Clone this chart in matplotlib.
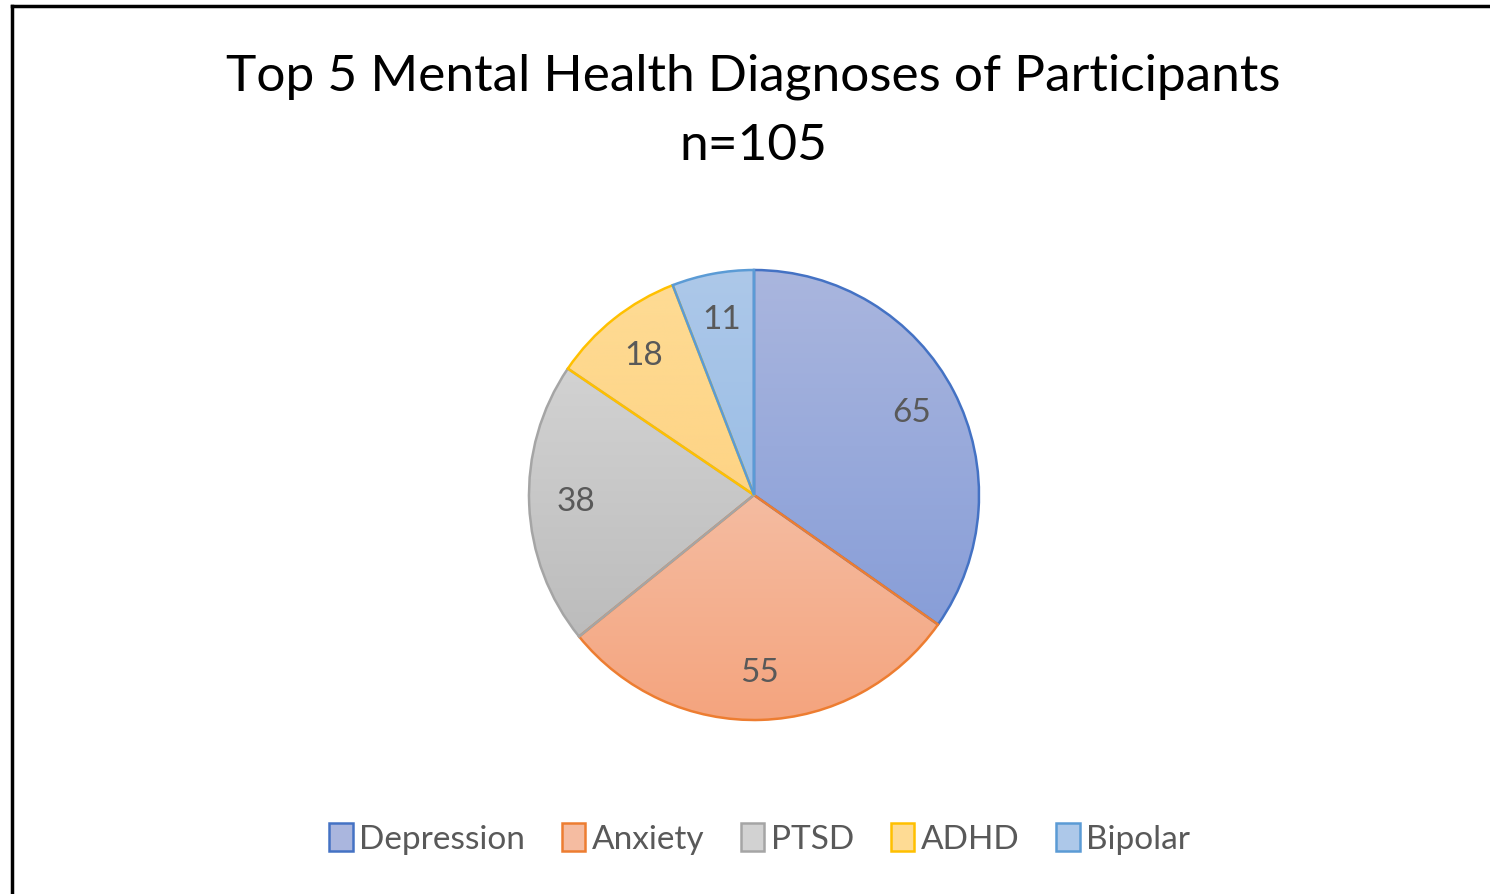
import numpy as np
import matplotlib.pyplot as plt
from matplotlib.patches import Patch
from matplotlib.lines import Line2D
from matplotlib.colors import LinearSegmentedColormap

# data
labels = ['Depression', 'Anxiety', 'PTSD', 'ADHD', 'Bipolar']
counts = [65, 55, 38, 18, 11]
title = 'Top 5 Mental Health Diagnoses of Participants'
subtitle = 'n=105'

# colours (gradient top -> bottom, edge)
top_cols = ['#AAB6DE', '#F5BCA1', '#D2D2D2', '#FEDB94', '#ADC8E9']
bot_cols = ['#889ED8', '#F4A47E', '#BCBCBC', '#FED485', '#9BBEE6']
edge_cols = ['#4472C4', '#ED7D31', '#A5A5A5', '#FFC000', '#5B9BD5']

plt.rcParams['font.family'] = ['Lato', 'DejaVu Sans']

W, H = 1490, 894
fig = plt.figure(figsize=(W / 100, H / 100), dpi=100)

# pie axes placed so the pie sits where it is in the reference
cx, cy, r = 754, 495, 225
m = 1.02
ax = fig.add_axes([(cx - r * m) / W, (H - cy - r * m) / H, 2 * r * m / W, 2 * r * m / H])
wedges, texts = ax.pie(counts, startangle=90, counterclock=False, radius=1,
                       labels=[str(c) for c in counts], labeldistance=0.79,
                       colors=top_cols,
                       wedgeprops=dict(linewidth=1.8),
                       textprops=dict(fontsize=24, color='#595959'))
for t in texts:
    t.set_horizontalalignment('center')
    t.set_verticalalignment('center')
ax.set_xlim(-m, m)
ax.set_ylim(-m, m)
ax.set_aspect('equal')
ax.axis('off')

# gradient fill inside each wedge
for w, tc, bc, ec in zip(wedges, top_cols, bot_cols, edge_cols):
    w.set_edgecolor(ec)
    w.set_facecolor('none')
    ext = w.get_path().get_extents()
    cmap = LinearSegmentedColormap.from_list('g', [tc, bc])
    grad = np.linspace(0, 1, 256).reshape(-1, 1)
    im = ax.imshow(grad, cmap=cmap, aspect='auto', origin='upper',
                   extent=[ext.x0, ext.x1, ext.y0, ext.y1], zorder=w.get_zorder() - 0.1)
    im.set_clip_path(w)
ax.set_xlim(-m, m)
ax.set_ylim(-m, m)

# title
fig.text(0.5055, 1 - 77 / H, title, ha='center', va='center', fontsize=37, color='black')
fig.text(0.5055, 1 - 146 / H, subtitle, ha='center', va='center', fontsize=37, color='black')

# legend
handles = [Patch(facecolor=tc, edgecolor=ec, linewidth=1.8) for tc, ec in zip(top_cols, edge_cols)]
fig.legend(handles, labels, loc='center', bbox_to_anchor=(0.51, 1 - 839 / H), ncol=5,
           frameon=False, fontsize=24, labelcolor='#595959',
           handlelength=0.7, handleheight=0.9, handletextpad=0.2, columnspacing=1.1)

# outer frame (left and top only, as cropped in the reference)
fig.add_artist(Line2D([12 / W, 12 / W], [0, 1 - 6 / H], transform=fig.transFigure, color='black', lw=2.5))
fig.add_artist(Line2D([12 / W, 1], [1 - 6 / H, 1 - 6 / H], transform=fig.transFigure, color='black', lw=2.5))

fig.savefig('out.png', dpi=100, facecolor='white')
